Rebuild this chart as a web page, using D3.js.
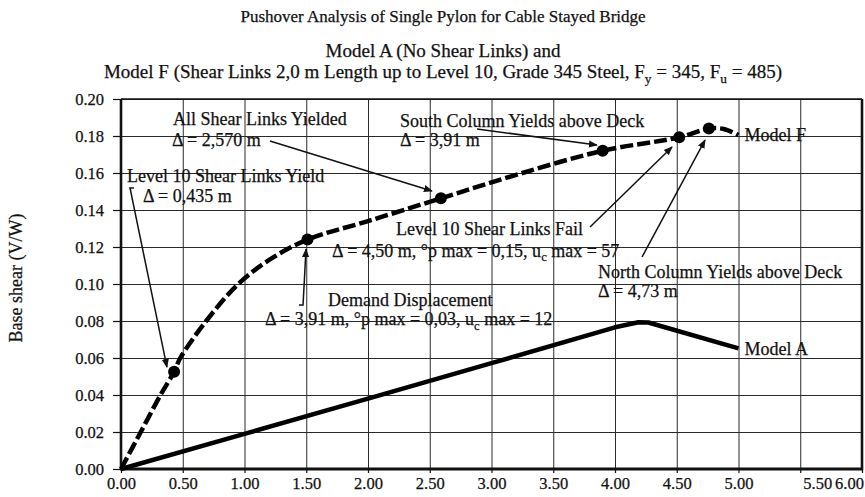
<!DOCTYPE html>
<html>
<head>
<meta charset="utf-8">
<script src="https://cdn.jsdelivr.net/npm/d3@7"></script>
<style>
    body { margin: 0; background: #fff; }
    svg { display: block; }
    svg text { font-family: "Liberation Serif", "Times New Roman", serif; stroke: #111; stroke-width: 0.25; }
    .grid line { stroke: #2a2a2a; stroke-width: 1; }
    .grid .domain { display: none; }
    .axis text { font-family: "Liberation Serif", "Times New Roman", serif; font-size: 16.5px; fill: #111; }
    .axis line { stroke: #111; stroke-width: 1.2; }
    .axis .domain { display: none; }
    .note { font-size: 18px; fill: #111; }
</style>
</head>
<body>
<svg width="865" height="497"></svg>
<script>

// Model F (shear links)
var modelF_x = [0, 0.16, 0.32, 0.43, 0.48, 0.69, 0.95, 1.2, 1.51, 2.0, 2.59, 3.2, 3.9, 4.52, 4.76, 4.88, 5.0];
var modelF_y = [0, 0.02, 0.04, 0.0526, 0.06, 0.08, 0.10, 0.113, 0.124, 0.134, 0.1463, 0.159, 0.172, 0.1793, 0.184, 0.1838, 0.1805];

// Model A (no shear links) - solid curve
var modelA_x = [0, 1.0, 2.0, 3.0, 4.0, 4.19, 4.27, 5.0];
var modelA_y = [0, 0.019, 0.038, 0.0572, 0.0766, 0.0793, 0.0792, 0.0652];

// yield / failure events on model F
var event_x = [0.43, 1.51, 2.59, 3.90, 4.52, 4.76];
var event_y = [0.0526, 0.124, 0.1463, 0.172, 0.1793, 0.184];

var xTicks = [0, 0.5, 1, 1.5, 2, 2.5, 3, 3.5, 4, 4.5, 5, 5.5, 6];
var yTicks = [0, 0.02, 0.04, 0.06, 0.08, 0.10, 0.12, 0.14, 0.16, 0.18, 0.20];

var titleLines = [
    "Pushover Analysis of Single Pylon for Cable Stayed Bridge",
    "Model A (No Shear Links) and",
    "Model F (Shear Links 2,0 m Length up to Level 10, Grade 345 Steel, F_{y} = 345, F_{u} = 485)"
];
var yLabel = "Base shear (V/W)";

// annotation texts, anchored in data units, with leader lines
var notes = [
    { lines: ["All Shear Links Yielded", "\u0394 = 2,570 m"],
      at: [[0.421, 0.1859], [0.413, 0.1746]],
      leader: [[1.206, 0.1773], [2.518, 0.1503]] },
    { lines: ["South Column Yields above Deck", "\u0394 = 3,91 m"],
      at: [[2.259, 0.1849], [2.259, 0.1746]],
      leader: [[2.883, 0.1838], [3.854, 0.1751]] },
    { lines: ["Level 10 Shear Links Yield", "\u0394 = 0,435 m"],
      at: [[0.049, 0.1551], [0.178, 0.1443]],
      leader: [[0.105, 0.1519], [0.073, 0.1519], [0.372, 0.0551]] },
    { lines: ["Level 10 Shear Links Fail", "\u0394 = 4,50 m, \u00b0p max = 0,15, u_{c} max = 57"],
      at: [[2.227, 0.1265], [1.709, 0.1146]],
      leader: [[3.798, 0.1308], [4.462, 0.1741]] },
    { lines: ["North Column Yields above Deck", "\u0394 = 4,73 m"],
      at: [[3.862, 0.1033], [3.862, 0.093]],
      leader: [[4.219, 0.1146], [4.729, 0.1778]] },
    { lines: ["Demand Displacement", "\u0394 = 3,91 m, \u00b0p max = 0,03, u_{c} max = 12"],
      at: [[1.676, 0.0881], [1.166, 0.0778]],
      leader: [[1.441, 0.0886], [1.474, 0.0886], [1.498, 0.1189]] }
];

var seriesLabels = [
    { text: "Model F", at: [5.049, 0.1773] },
    { text: "Model A", at: [5.049, 0.0616] }
];

var svg = d3.select("svg"),
    width = +svg.attr("width"),
    height = +svg.attr("height"),
    plot = {left: 121, right: 862, top: 99, bottom: 469};

var x = d3.scaleLinear()
    .domain([0, 6])
    .range([plot.left, plot.right]);

var y = d3.scaleLinear()
    .domain([0, 0.2])
    .range([plot.bottom, plot.top]);

// write "_{..}" parts as subscripts
function richText(sel, str, size) {
    var parts = str.split(/_\{(.*?)\}/);
    parts.forEach(function(p, i) {
        if (p === "") return;
        var t = sel.append("tspan").text(p);
        if (i % 2 == 1) {
            t.attr("font-size", size * 0.7).attr("dy", size * 0.25);
        } else if (i > 0) {
            t.attr("dy", -size * 0.25);
        }
    });
}

var defs = svg.append("defs");
defs.append("marker")
    .attr("id", "arrow")
    .attr("viewBox", "0 0 10 10")
    .attr("refX", 9)
    .attr("refY", 5)
    .attr("markerWidth", 6)
    .attr("markerHeight", 6)
    .attr("orient", "auto")
  .append("path")
    .attr("d", "M0,1L10,5L0,9z")
    .attr("fill", "#111");

// titles
var titleY = [22, 57, 78],
    titleSize = [17, 19, 19];
titleLines.forEach(function(line, i) {
    var t = svg.append("text")
        .attr("x", 443)
        .attr("y", titleY[i])
        .attr("text-anchor", "middle")
        .attr("font-size", titleSize[i])
        .attr("fill", "#111");
    richText(t, line, titleSize[i]);
});

// grid
svg.append("g")
    .attr("class", "grid")
    .attr("transform", "translate(0," + plot.bottom + ")")
    .call(d3.axisBottom(x).tickValues(xTicks).tickSizeInner(-(plot.bottom - plot.top)).tickSizeOuter(0).tickFormat(""));

svg.append("g")
    .attr("class", "grid")
    .attr("transform", "translate(" + plot.left + ",0)")
    .call(d3.axisLeft(y).tickValues(yTicks).tickSizeInner(-(plot.right - plot.left)).tickSizeOuter(0).tickFormat(""));

// axes - the last two labels sit squeezed to the right in the original
var labelNudge = {5.5: 17, 6: -13};

var xAxis = svg.append("g")
    .attr("class", "axis")
    .attr("transform", "translate(0," + plot.bottom + ")")
    .call(d3.axisBottom(x).tickValues(xTicks).tickSizeInner(4).tickSizeOuter(0).tickPadding(4).tickFormat(d3.format(".2f")));
xAxis.selectAll("text")
    .attr("dx", function(d) { return labelNudge[d] || 0; });

svg.append("g")
    .attr("class", "axis")
    .attr("transform", "translate(" + plot.left + ",0)")
    .call(d3.axisLeft(y).tickValues(yTicks).tickSizeInner(8).tickSizeOuter(0).tickPadding(9).tickFormat(d3.format(".2f")));

// frame
svg.append("line").attr("x1", plot.left).attr("x2", plot.right).attr("y1", plot.top).attr("y2", plot.top)
    .attr("stroke", "#111").attr("stroke-width", 1.6);
svg.append("line").attr("x1", plot.left).attr("x2", plot.left).attr("y1", plot.top).attr("y2", plot.bottom + 1)
    .attr("stroke", "#111").attr("stroke-width", 2.6);
svg.append("line").attr("x1", plot.right).attr("x2", plot.right).attr("y1", plot.top).attr("y2", plot.bottom + 1)
    .attr("stroke", "#111").attr("stroke-width", 2.6);
svg.append("line").attr("x1", plot.left - 1).attr("x2", plot.right + 1).attr("y1", plot.bottom).attr("y2", plot.bottom)
    .attr("stroke", "#111").attr("stroke-width", 3);

// y label
svg.append("text")
    .attr("transform", "translate(22," + 278 + ") rotate(-90)")
    .attr("text-anchor", "middle")
    .attr("font-size", 18)
    .attr("fill", "#111")
    .text(yLabel);

var line = d3.line()
    .x(function(d) { return x(d[0]); })
    .y(function(d) { return y(d[1]); });

// model A - solid
svg.append("path")
    .datum(modelA_x.map(function(v, i) { return [v, modelA_y[i]]; }))
    .attr("d", line.curve(d3.curveLinear))
    .attr("fill", "none")
    .attr("stroke", "#000")
    .attr("stroke-width", 4.5)
    .attr("stroke-linejoin", "round");

// model F - dashed
svg.append("path")
    .datum(modelF_x.map(function(v, i) { return [v, modelF_y[i]]; }))
    .attr("d", line.curve(d3.curveCatmullRom))
    .attr("fill", "none")
    .attr("stroke", "#000")
    .attr("stroke-width", 4.5)
    .attr("stroke-dasharray", "13,4");

svg.append("g")
    .selectAll("circle")
    .data(event_x.map(function(v, i) { return [v, event_y[i]]; }))
    .enter().append("circle")
        .attr("cx", function(d) { return x(d[0]); })
        .attr("cy", function(d) { return y(d[1]); })
        .attr("r", 6)
        .attr("fill", "#000");

// annotations
var leader = d3.line()
    .x(function(d) { return x(d[0]); })
    .y(function(d) { return y(d[1]); });

notes.forEach(function(n) {
    svg.append("path")
        .attr("d", leader(n.leader))
        .attr("fill", "none")
        .attr("stroke", "#111")
        .attr("stroke-width", 1.5)
        .attr("marker-end", "url(#arrow)");
    n.lines.forEach(function(l, i) {
        var t = svg.append("text")
            .attr("class", "note")
            .attr("x", x(n.at[i][0]))
            .attr("y", y(n.at[i][1]));
        richText(t, l, 18);
    });
});

svg.selectAll(".series-label")
    .data(seriesLabels)
    .enter().append("text")
        .attr("class", "note series-label")
        .attr("x", function(d) { return x(d.at[0]); })
        .attr("y", function(d) { return y(d.at[1]); })
        .text(function(d) { return d.text; });

</script>
</body>
</html>
